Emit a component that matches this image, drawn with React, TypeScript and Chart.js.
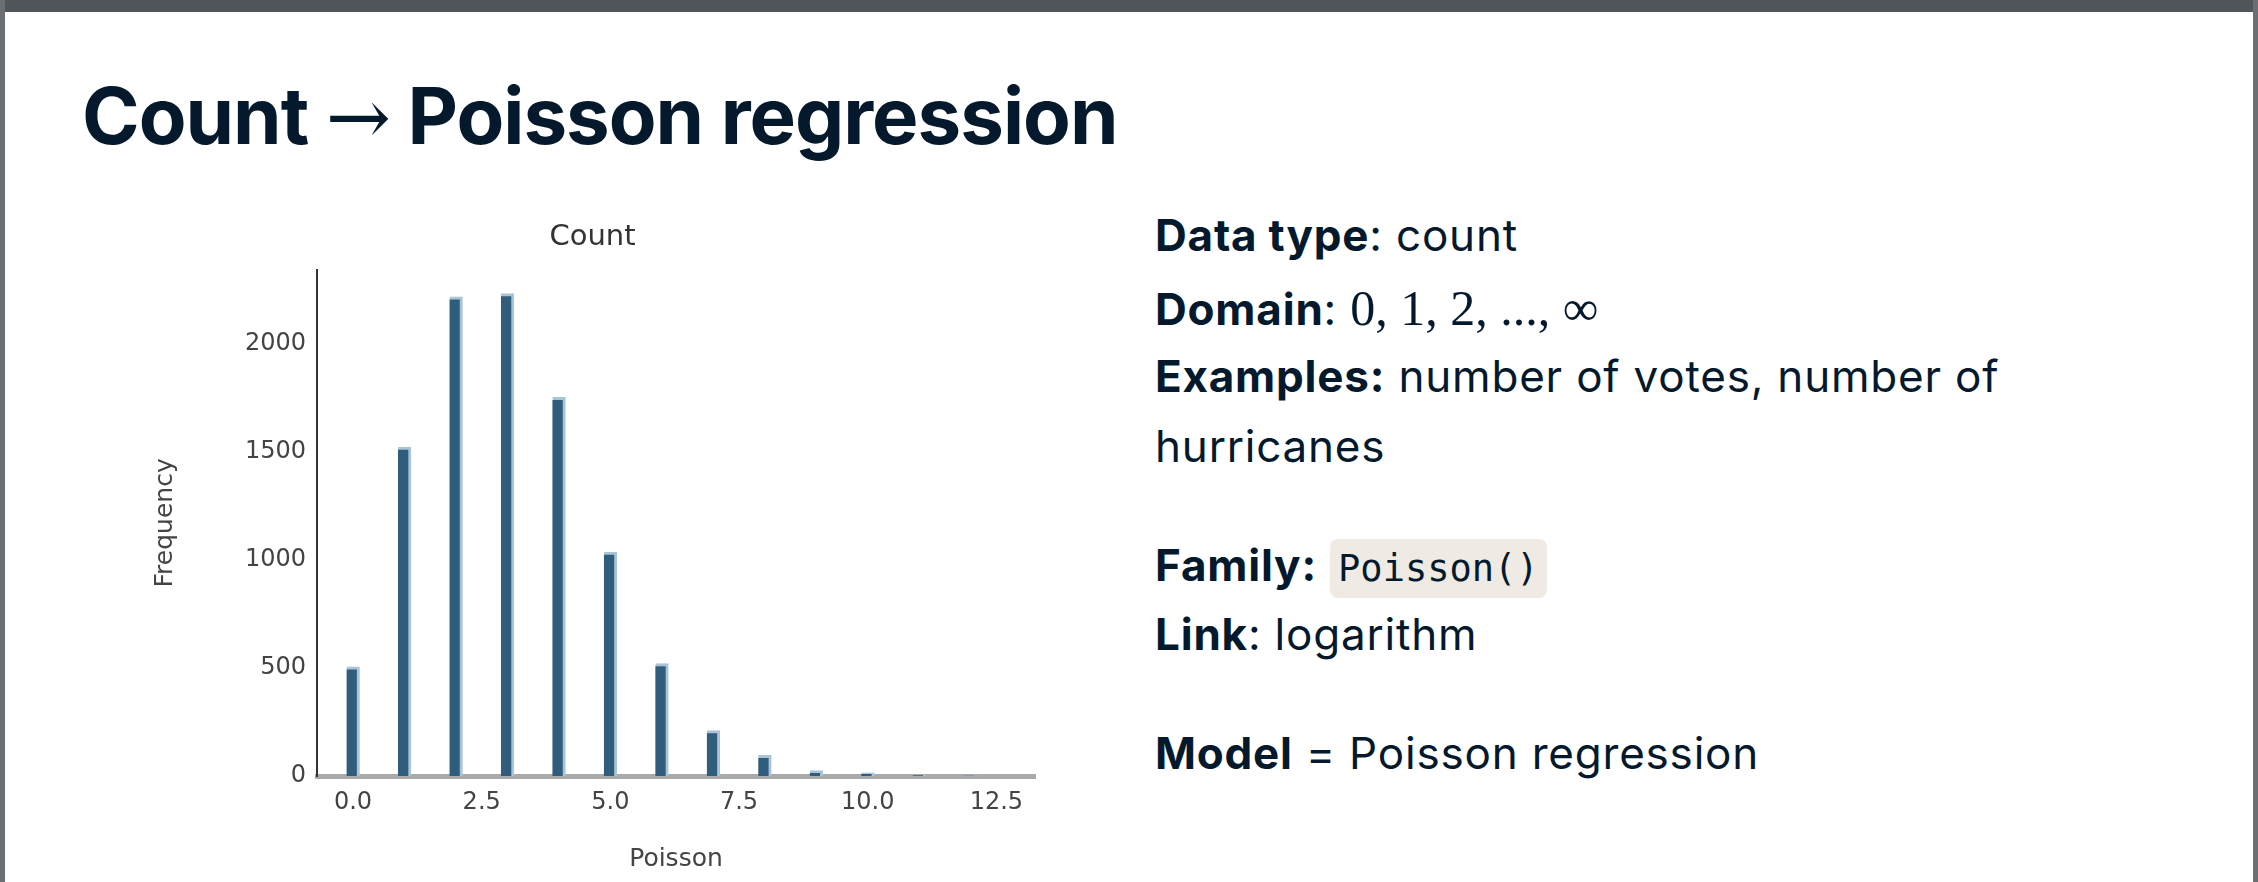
import React, { useEffect, useRef } from "react";
import { Chart, registerables } from "chart.js";
Chart.register(...registerables);

const counts = [0, 1, 2, 3, 4, 5, 6, 7, 8, 9, 10, 11, 12];
const frequencies = [505, 1520, 2215, 2230, 1750, 1035, 520, 210, 95, 25, 15, 3, 1];
const xTicks = [0, 2.5, 5, 7.5, 10, 12.5];
const yTicks = [0, 500, 1000, 1500, 2000];

function HistChart() {
  const ref = useRef<HTMLCanvasElement>(null);
  useEffect(() => {
    const c = new Chart(ref.current!, {
      type: "bar",
      data: {
        datasets: [{
          data: counts.map((x, i) => ({ x, y: frequencies[i] })),
          backgroundColor: "#305d7b",
          borderColor: "#a9c4d6",
          borderWidth: { top: 3, left: 0, right: 3, bottom: 0 } as any,
          barThickness: 13,
        }],
      },
      options: {
        animation: false,
        responsive: false,
        maintainAspectRatio: false,
        layout: { padding: { right: 15, left: 0, top: 0, bottom: 0 } },
        plugins: {
          legend: { display: false },
          tooltip: { enabled: false },
          title: { display: true, text: "Count", color: "#333", font: { family: "DejaVu Sans", size: 29, weight: "normal" }, padding: { top: 10, bottom: 15 } },
        },
        scales: {
          x: {
            type: "linear", min: -0.7, max: 13.25, offset: false,
            afterBuildTicks: (a: any) => { a.ticks = xTicks.map((v) => ({ value: v })); },
            afterFit: (a: any) => { a.height = 106; },
            grid: { display: false, drawTicks: true, tickLength: 8, tickColor: "#333" } as any,
            border: { color: "#aaaaaa", width: 5 },
            ticks: { color: "#444", font: { family: "DejaVu Sans", size: 24 }, callback: (v: any) => Number(v).toFixed(1), maxRotation: 0, padding: 4 },
            title: { display: true, text: "Poisson", color: "#444", font: { family: "DejaVu Sans", size: 25 }, padding: { top: 4, bottom: 8 } },
          },
          y: {
            min: 0, max: 2340,
            afterBuildTicks: (a: any) => { a.ticks = yTicks.map((v) => ({ value: v })); },
            afterFit: (a: any) => { a.width = 167; },
            grid: { display: false, drawTicks: true, tickLength: 8, tickColor: "#333" } as any,
            border: { color: "#333", width: 2 },
            ticks: { color: "#444", font: { family: "DejaVu Sans", size: 24 }, callback: (v: any) => String(v) },
            title: { display: true, text: "Frequency", color: "#444", font: { family: "DejaVu Sans", size: 25 }, padding: { top: 0, bottom: 0 } },
          },
        },
      },
    });
    return () => c.destroy();
  }, []);
  return <canvas ref={ref} width={900} height={672} style={{ position: "absolute", left: 150, top: 210, width: 900, height: 672 }} />;
}

const txt: React.CSSProperties = { position: "absolute", left: 1155, fontFamily: "Inter, 'Open Sans', sans-serif", fontSize: 44, letterSpacing: 0.8, color: "#05192d", whiteSpace: "nowrap", lineHeight: 1 };

export default function App() {
  return (
    <div style={{ position: "fixed", left: 0, top: 0, width: 2258, height: 882, background: "#fff", overflow: "hidden" }}>
      <div style={{ position: "absolute", left: 0, top: 0, width: 2258, height: 12, background: "#50555a" }} />
      <div style={{ position: "absolute", left: 0, top: 0, width: 5, height: 882, background: "#6b6f73" }} />
      <div style={{ position: "absolute", right: 0, top: 0, width: 5, height: 882, background: "#6b6f73" }} />
      <div style={{ position: "absolute", left: 82, top: 68, fontFamily: "Inter, sans-serif", fontWeight: 700, fontSize: 78, color: "#05192d", whiteSpace: "nowrap", letterSpacing: -1 }}>
        Count <span style={{ fontWeight: 400, fontFamily: "'DejaVu Serif', serif" }}>→</span> Poisson regression
      </div>
      <HistChart />
      <div style={{ ...txt, top: 213 }}><b>Data type</b>: count</div>
      <div style={{ ...txt, top: 283 }}><b>Domain</b>: <span style={{ fontFamily: "'Liberation Serif', serif", fontSize: 50, letterSpacing: 0 }}>0, 1, 2, ..., ∞</span></div>
      <div style={{ ...txt, top: 354 }}><b>Examples:</b> number of votes, number of</div>
      <div style={{ ...txt, top: 424 }}>hurricanes</div>
      <div style={{ ...txt, top: 543 }}><b>Family:</b> <span style={{ fontFamily: "'DejaVu Sans Mono', monospace", fontSize: 37, letterSpacing: 0, background: "#efebe4", borderRadius: 8, padding: "8px 8px" }}>Poisson()</span></div>
      <div style={{ ...txt, top: 612 }}><b>Link</b>: logarithm</div>
      <div style={{ ...txt, top: 731 }}><b>Model</b> = Poisson regression</div>
    </div>
  );
}
